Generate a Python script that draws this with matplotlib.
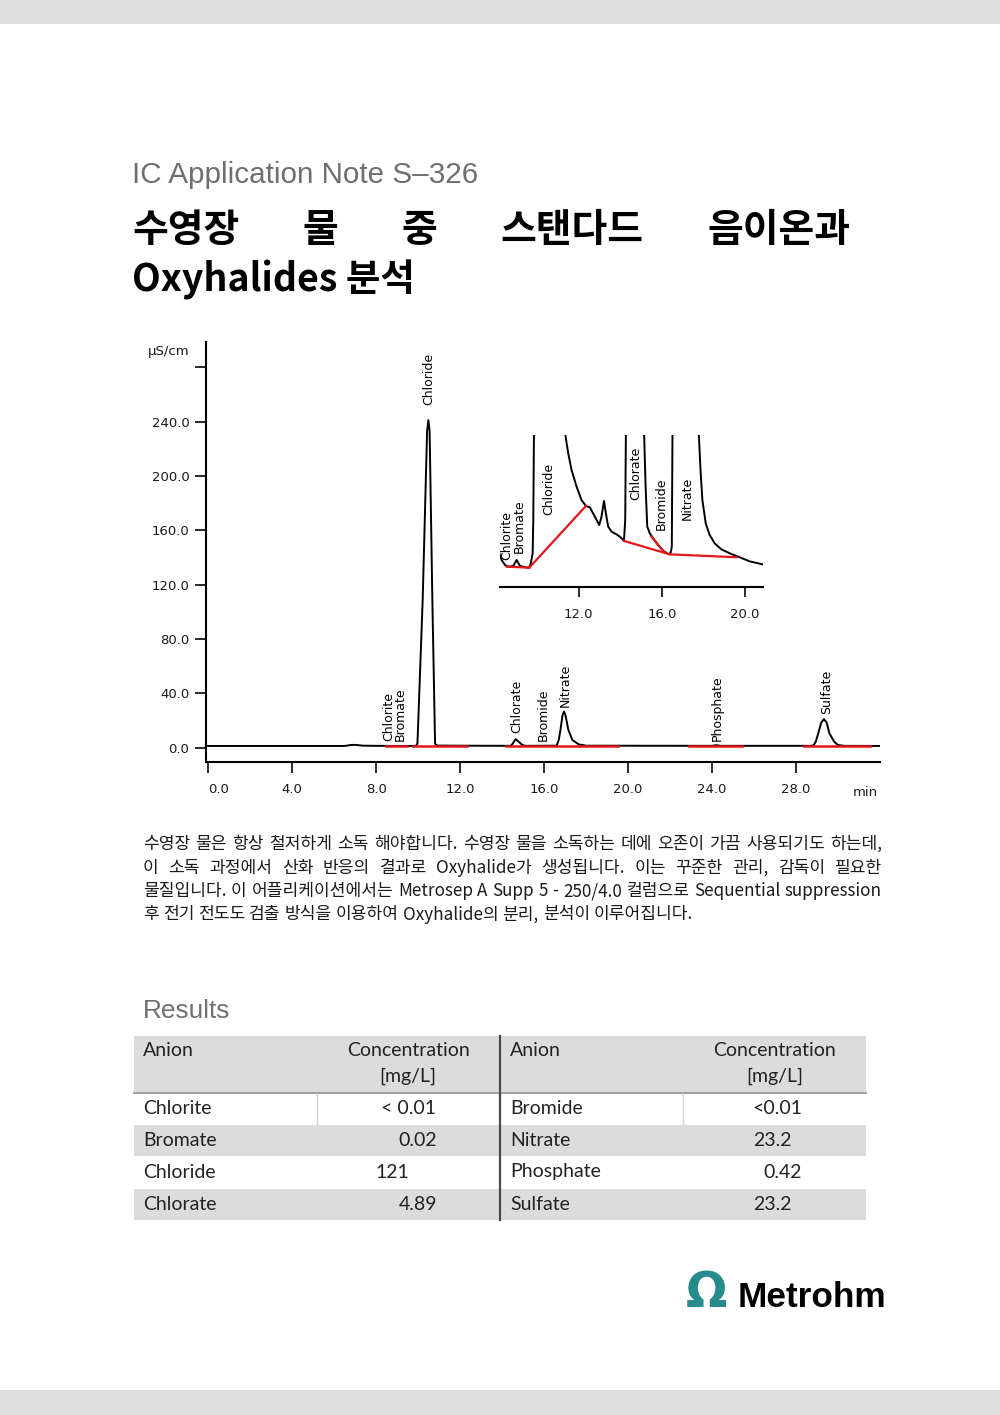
import numpy as np
import matplotlib
matplotlib.use('Agg')
import matplotlib.pyplot as plt
from matplotlib import font_manager
from matplotlib.patches import Rectangle
from matplotlib.lines import Line2D

installed = {f.name for f in font_manager.fontManager.ttflist}
if 'Liberation Sans Narrow' in installed:
    NARROW, nscale = 'Liberation Sans Narrow', 1.0
else:
    NARROW, nscale = 'Liberation Sans', 0.82
KR = ['Noto Sans CJK KR', 'DejaVu Sans']
TABLE_FONT = 'Lato' if 'Lato' in installed else 'Liberation Sans'

# ---- chromatogram (time in min, conductivity in uS/cm) ----
time_main = [0.0, 6.5, 6.8, 7.0, 7.4, 8.0, 9.5, 9.9, 9.97, 10.22, 10.43, 10.49, 10.55, 10.68, 10.81, 10.9,
             12.0, 14.4, 14.46, 14.65, 14.97, 15.1, 16.6, 16.70, 16.78, 16.88, 16.95, 17.02, 17.16, 17.35,
             17.65, 18.0, 24.0, 24.2, 24.4, 28.7, 28.83, 28.94, 29.06, 29.2, 29.33, 29.46, 29.59, 29.82,
             30.0, 30.3, 32.0]
signal_main = [1.3, 1.3, 2.0, 2.1, 1.5, 1.4, 1.3, 1.4, 3.0, 109, 233, 241, 233, 109, 3.0, 1.6,
               1.5, 1.4, 2.0, 6.3, 2.0, 1.4, 1.5, 5.7, 13, 24, 26.6, 24, 13, 5.7,
               2.5, 1.5, 1.4, 1.9, 1.4, 1.4, 1.8, 4.4, 10.6, 18.5, 21.0, 18.5, 10.6, 4.4,
               2.0, 1.4, 1.3]

# integration baselines (red)
base_start = [8.45, 9.78, 14.17, 22.92, 28.38]
base_end = [9.46, 12.32, 19.54, 25.41, 31.52]
base_level = 1.3

peak_names = ['Chlorite', 'Bromate', 'Chloride', 'Chlorate', 'Bromide', 'Nitrate', 'Phosphate', 'Sulfate']
peak_label_t = [8.62, 9.16, 10.51, 14.71, 15.95, 17.03, 24.24, 29.45]
peak_label_y = [5.2, 5.2, 252.3, 10.6, 5.2, 30.2, 5.2, 24.8]

# zoomed detail (inset)
time_zoom = [8.19, 8.30, 8.46, 8.62, 8.86, 9.02, 9.18, 9.50, 9.63, 9.70, 9.79, 9.82, 9.90, 11.25, 11.36,
             11.50, 11.66, 11.90, 12.14, 12.35, 12.54, 12.78, 12.99, 13.10, 13.22, 13.31, 13.42, 13.58,
             13.82, 13.98, 14.18, 14.24, 14.32, 15.13, 15.15, 15.22, 15.30, 15.42, 15.58, 15.82, 16.06,
             16.30, 16.42, 16.48, 16.55, 17.74, 17.78, 17.86, 17.95, 18.11, 18.30, 18.54, 18.86, 19.26,
             19.74, 20.22, 20.83]
signal_zoom = [1.373, 1.329, 1.296, 1.285, 1.290, 1.329, 1.290, 1.279, 1.281, 1.307, 1.373, 1.591, 3.0, 3.0, 2.15,
               2.028, 1.919, 1.810, 1.722, 1.683, 1.674, 1.613, 1.558, 1.613, 1.716, 1.635, 1.548, 1.515,
               1.497, 1.482, 1.456, 1.591, 3.0, 3.0, 2.15, 1.810, 1.548, 1.504, 1.471, 1.427, 1.390,
               1.368, 1.373, 1.416, 3.0, 3.0, 2.15, 1.919, 1.722, 1.569, 1.493, 1.438, 1.399, 1.373,
               1.347, 1.320, 1.301]
zoom_base_t0 = [8.54, 9.63, 14.18, 15.50, 16.38]
zoom_base_v0 = [1.285, 1.279, 1.454, 1.482, 1.366]
zoom_base_t1 = [9.63, 12.35, 16.38, 16.14, 19.58]
zoom_base_v1 = [1.279, 1.683, 1.366, 1.377, 1.347]
zoom_names = ['Chlorite', 'Bromate', 'Chloride', 'Chlorate', 'Bromide', 'Nitrate']
zoom_label_t = [8.54, 9.15, 10.57, 14.75, 15.98, 17.21]
zoom_label_v = [1.329, 1.373, 1.624, 1.722, 1.525, 1.591]

# ---- results table ----
left_anion = ['Chlorite', 'Bromate', 'Chloride', 'Chlorate']
left_conc = ['< 0.01', '0.02', '121', '4.89']
right_anion = ['Bromide', 'Nitrate', 'Phosphate', 'Sulfate']
right_conc = ['<0.01', '23.2', '0.42', '23.2']

paragraph = [
    "수영장 물은 항상 철저하게 소독 해야합니다. 수영장 물을 소독하는 데에 오존이 가끔 사용되기도 하는데,",
    "이 소독 과정에서 산화 반응의 결과로 Oxyhalide가 생성됩니다. 이는 꾸준한 관리, 감독이 필요한",
    "물질입니다. 이 어플리케이션에서는 Metrosep A Supp 5 - 250/4.0 컬럼으로 Sequential suppression",
    "후 전기 전도도 검출 방식을 이용하여 Oxyhalide의 분리, 분석이 이루어집니다.",
]

W, H = 1000, 1415
fig = plt.figure(figsize=(W / 100, H / 100), dpi=100)
renderer = fig.canvas.get_renderer()


def fx(x):
    return x / W


def fy(y):
    return 1 - y / H


def justify(words, y, x0, x1, last=False, **kw):
    texts = [fig.text(0, fy(y), w, va='baseline', ha='left', **kw) for w in words]
    widths = [t.get_window_extent(renderer).width for t in texts]
    if last or len(words) < 2:
        gap = 0.23 * kw.get('fontsize', 10) * 100 / 72
    else:
        gap = max((x1 - x0 - sum(widths)) / (len(words) - 1), 1.5)
    x = x0
    for t, w in zip(texts, widths):
        t.set_x(fx(x))
        x += w + gap


# page bands
for y0, y1 in [(0, 24), (1390, 1415)]:
    fig.add_artist(Rectangle((0, fy(y1)), 1, (y1 - y0) / H, transform=fig.transFigure,
                             facecolor='#dedede', edgecolor='none', zorder=0))

# header texts
fig.text(fx(132), fy(183), 'IC Application Note S\u2013326', color='#6f6f6f',
         fontsize=26 * nscale, family=[NARROW, 'DejaVu Sans'], va='baseline')
justify(['수영장', '물', '중', '스탠다드', '음이온과'], 242, 132, 850,
        fontsize=28, fontweight='bold', family=KR, color='black')
fig.text(fx(132), fy(291), 'Oxyhalides 분석', fontsize=27, fontweight='bold', family=KR,
         color='black', va='baseline')

# ---- main chromatogram ----
ax = fig.add_axes([fx(206), fy(762), (880 - 206) / W, 420 / H])
ax.set_facecolor('none')
ax.plot(time_main, signal_main, color='black', lw=1.4, zorder=2)
for s, e in zip(base_start, base_end):
    ax.plot([s, e], [base_level, base_level], color='#e3161b', lw=1.8, zorder=3)
ax.set_xlim(-0.1, 32)
ax.set_ylim(-10.5, 298.5)
for side in ['top', 'right']:
    ax.spines[side].set_visible(False)
for side in ['left', 'bottom']:
    ax.spines[side].set_linewidth(1.5)
yt = np.arange(0, 281, 40)
ax.set_yticks(yt)
ax.set_yticklabels([f'{v:.1f}' if v <= 240 else '' for v in yt])
xt = np.arange(0, 29, 4)
ax.set_xticks(xt)
ax.set_xticklabels([f'{v:.1f}' for v in xt])
ax.get_xticklabels()[0].set_ha('left')
ax.tick_params(axis='both', length=8, width=1.3, labelsize=9.5, colors='#1a1a1a')
ax.tick_params(axis='x', pad=7)
ax.tick_params(axis='y', pad=4)
for name, t, v in zip(peak_names, peak_label_t, peak_label_y):
    ax.text(t, v, name, rotation=90, ha='center', va='bottom', fontsize=9, color='black')
fig.text(fx(148), fy(352), 'µS/cm', fontsize=9.5, va='center', color='#1a1a1a')
fig.text(fx(853), fy(792), 'min', fontsize=9.5, va='center', color='#1a1a1a')

# ---- inset ----
ax2 = fig.add_axes([fx(500), fy(587.3), 262.7 / W, 152.6 / H])
ax2.set_facecolor('none')
ax2.plot(time_zoom, signal_zoom, color='black', lw=1.4, zorder=2)
for t0, v0, t1, v1 in zip(zoom_base_t0, zoom_base_v0, zoom_base_t1, zoom_base_v1):
    ax2.plot([t0, t1], [v0, v1], color='#e3161b', lw=1.6, zorder=3)
ax2.set_xlim(8.22, 20.85)
ax2.set_ylim(1.15, 2.15)
for side in ['top', 'right', 'left']:
    ax2.spines[side].set_visible(False)
ax2.spines['bottom'].set_linewidth(1.5)
ax2.set_yticks([])
ax2.set_xticks([12, 16, 20])
ax2.set_xticklabels(['12.0', '16.0', '20.0'])
ax2.tick_params(axis='x', length=7, width=1.3, labelsize=9.5, pad=8, colors='#1a1a1a')
for name, t, v in zip(zoom_names, zoom_label_t, zoom_label_v):
    ax2.text(t, v, name, rotation=90, ha='center', va='bottom', fontsize=9, color='black')

# ---- paragraph ----
for i, line in enumerate(paragraph):
    justify(line.split(' '), 849 + i * 23.5, 143, 882, last=(i == len(paragraph) - 1),
            fontsize=12.3, family=KR, color='#1a1a1a')

# ---- results table ----
fig.text(fx(143), fy(1018), 'Results', color='#707070', fontsize=23 * nscale,
         family=[NARROW, 'DejaVu Sans'], va='baseline')

gray = '#dcdcdc'
for y0, y1 in [(1036, 1092), (1125, 1156), (1189, 1220)]:
    fig.add_artist(Rectangle((fx(134), fy(y1)), (866 - 134) / W, (y1 - y0) / H, transform=fig.transFigure,
                             facecolor=gray, edgecolor='none', zorder=0))
fig.add_artist(Line2D([fx(134), fx(866)], [fy(1092.5)] * 2, transform=fig.transFigure,
                      color='#8f8f8f', lw=1.2))
fig.add_artist(Line2D([fx(500)] * 2, [fy(1036), fy(1220)], transform=fig.transFigure,
                      color='#4a4a4a', lw=1.6))
for xv in [317, 683]:
    fig.add_artist(Line2D([fx(xv)] * 2, [fy(1093), fy(1124)], transform=fig.transFigure,
                          color='#d2d2d2', lw=1.0))

tkw = dict(fontsize=14, family=[TABLE_FONT, 'DejaVu Sans'], fontweight='normal', color='#222222', va='center')
for x_name, x_conc in [(143, 408), (510, 775)]:
    fig.text(fx(x_name), fy(1051), 'Anion', ha='left', **tkw)
    fig.text(fx(x_conc), fy(1051), 'Concentration', ha='center', **tkw)
    fig.text(fx(x_conc), fy(1076), '[mg/L]', ha='center', **tkw)

row_y = [1108, 1140, 1172, 1204]
left_conc_x = [408.5, 418, 392, 418]
right_conc_x = [777, 772, 783, 772]
for i in range(4):
    fig.text(fx(143), fy(row_y[i]), left_anion[i], ha='left', **tkw)
    fig.text(fx(left_conc_x[i]), fy(row_y[i]), left_conc[i], ha='center', **tkw)
    fig.text(fx(510), fy(row_y[i]), right_anion[i], ha='left', **tkw)
    fig.text(fx(right_conc_x[i]), fy(row_y[i]), right_conc[i], ha='center', **tkw)

# ---- logo ----
fig.text(fx(706), fy(1307), '\u03a9', ha='center', va='baseline', fontsize=35, fontweight='bold',
         family='DejaVu Sans', color='#278b8d')
fig.text(fx(738), fy(1307), 'Metrohm', ha='left', va='baseline', fontsize=31 * nscale, fontweight='bold',
         family=[NARROW, 'DejaVu Sans'], color='black')

fig.savefig('out.png', dpi=100)
